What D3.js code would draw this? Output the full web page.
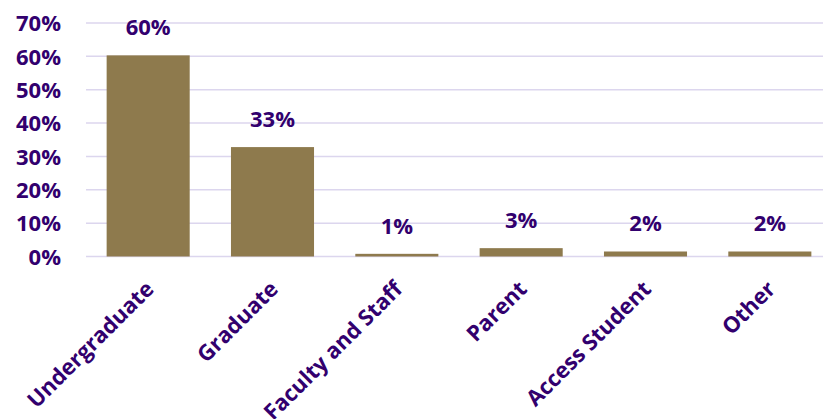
<!DOCTYPE html>
<html>
<head>
<meta charset="utf-8">
<script src="https://cdn.jsdelivr.net/npm/d3@7"></script>
<style>
  html, body { margin: 0; padding: 0; background: #fff; overflow: hidden; }
  svg { display: block; }
  text { font-family: "Open Sans", sans-serif; font-weight: 700; fill: #32006E; }
</style>
</head>
<body>
<svg id="chart" width="823" height="419"></svg>
<script>
// Respondent groups and their share of responses (percent)
const categories = ["Undergraduate", "Graduate", "Faculty and Staff", "Parent", "Access Student", "Other"];
const shares = [60.3, 32.8, 0.8, 2.5, 1.5, 1.5];
const yTicks = [0, 10, 20, 30, 40, 50, 60, 70];

const svg = d3.select("#chart");
const plot = { left: 86, right: 832, top: 23, bottom: 256.5 };
const fontSize = 22;

const x = d3.scaleBand()
  .domain(categories)
  .range([plot.left, plot.right])
  .paddingInner(0.332)
  .paddingOuter(0.166);

const y = d3.scaleLinear()
  .domain([0, 70])
  .range([plot.bottom, plot.top]);

// Horizontal gridlines
svg.append("g")
  .selectAll("line")
  .data(yTicks)
  .join("line")
  .attr("x1", plot.left)
  .attr("x2", plot.right)
  .attr("y1", d => y(d))
  .attr("y2", d => y(d))
  .attr("stroke", "#DCD6EE")
  .attr("stroke-width", 1.5);

// Y axis labels
const yAxis = d3.axisLeft(y)
  .tickValues(yTicks)
  .tickFormat(d => d + "%")
  .tickSize(0)
  .tickPadding(0);

svg.append("g")
  .attr("transform", `translate(61,0)`)
  .call(yAxis)
  .call(g => g.select(".domain").remove())
  .call(g => g.selectAll("text")
    .attr("font-size", fontSize)
    .attr("dy", "0.35em")
    .style("font-family", "'Open Sans', sans-serif")
    .style("font-weight", 700)
    .attr("fill", "#32006E"));

// Bars
svg.append("g")
  .selectAll("rect")
  .data(categories)
  .join("rect")
  .attr("x", d => x(d))
  .attr("width", x.bandwidth())
  .attr("y", (d, i) => y(shares[i]))
  .attr("height", (d, i) => y(0) - y(shares[i]))
  .attr("fill", "#8E7A4D");

// Value labels above bars
svg.append("g")
  .selectAll("text")
  .data(categories)
  .join("text")
  .attr("x", d => x(d) + x.bandwidth() / 2)
  .attr("y", (d, i) => y(shares[i]) - 20)
  .attr("text-anchor", "middle")
  .attr("font-size", fontSize)
  .text((d, i) => Math.round(shares[i]) + "%");

// Category labels, rotated
const xAxis = d3.axisBottom(x).tickSize(0).tickPadding(0);
svg.append("g")
  .attr("transform", `translate(0,${plot.bottom})`)
  .call(xAxis)
  .call(g => g.select(".domain").remove())
  .call(g => g.selectAll("text")
    .attr("font-size", fontSize)
    .style("font-family", "'Open Sans', sans-serif")
    .style("font-weight", 700)
    .attr("fill", "#32006E")
    .attr("text-anchor", "end")
    .attr("dy", null)
    .attr("y", 0)
    .attr("transform", "translate(7,34) rotate(-45)"));
</script>
</body>
</html>
